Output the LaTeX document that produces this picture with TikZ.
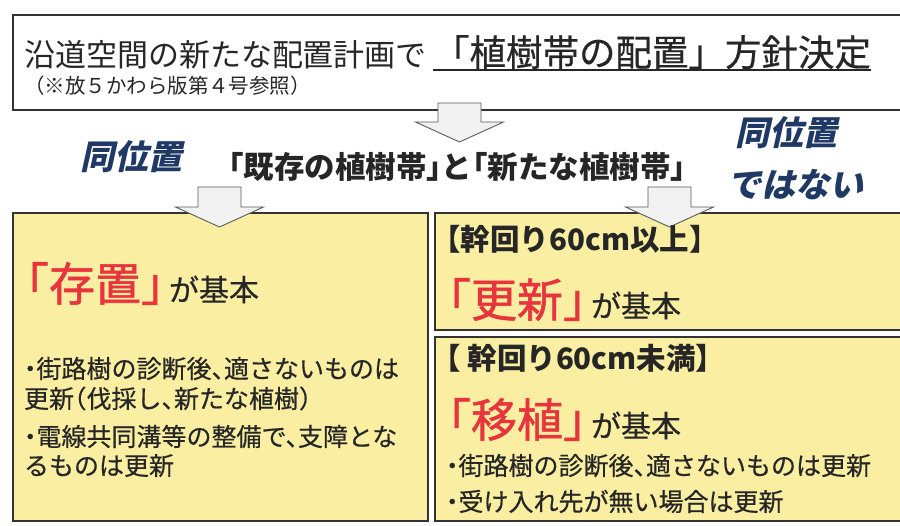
\documentclass[tikz,border=0pt]{standalone}
\usepackage{fontspec}
\setmainfont{Noto Sans CJK JP}
\newfontfamily\jpit[FakeSlant=0.22]{Noto Sans CJK JP}
\newfontfamily\jpmed[FakeBold=0.5]{Noto Sans CJK JP}
\newfontfamily\jphalt[RawFeature=+halt]{Noto Sans CJK JP}
\newfontfamily\jphaltmed[RawFeature=+halt,FakeBold=0.5]{Noto Sans CJK JP}
\newfontfamily\jphaltred[RawFeature=+halt,FakeBold=1.2]{Noto Sans CJK JP}
\definecolor{txt}{RGB}{38,38,38}
\definecolor{redt}{RGB}{232,52,60}
\definecolor{navy}{RGB}{31,56,100}
\definecolor{yell}{RGB}{249,238,161}
\definecolor{edge}{RGB}{51,51,51}
\definecolor{arrfill}{RGB}{242,242,242}
\definecolor{arrline}{RGB}{90,90,90}
\newcommand{\fs}[1]{\fontsize{#1}{#1}\selectfont}
\newcommand{\blockarrow}[3]{%
  \filldraw[barrow] (#1-21.5,#2) -- (#1+21.5,#2) -- (#1+21.5,#3-20) -- (#1+44,#3-20)
    -- (#1,#3) -- (#1-44,#3-20) -- (#1-21.5,#3-20) -- cycle;}
\newcommand{\keyline}[1]{\textcolor{redt}{\jphaltred\fs{46}「#1」}\hspace{5pt}{\fs{30}が基本}}
\begin{document}
\begin{tikzpicture}[x=1pt,y=-1pt,
  txtnode/.style={inner sep=0pt, outer sep=0pt, anchor=base west, text=txt},
  whitebox/.style={draw=edge, line width=2.2pt, fill=white, inner sep=0pt, outer sep=0pt, anchor=north west},
  ybox/.style={draw=edge, line width=2.4pt, fill=yell, inner sep=0pt, outer sep=0pt, anchor=north west},
  barrow/.style={fill=arrfill, draw=arrline, line width=0.9pt, line join=miter},
  bluetxt/.style={inner sep=0pt, outer sep=0pt, anchor=base west, text=navy, font=\jpit\bfseries\fs{34}},
  keytxt/.style={txtnode, font=\jphaltmed},
  bullet/.style={txtnode, font=\jphaltmed\fs{25}},
  headtxt/.style={txtnode, font=\jphalt\bfseries\fs{29.5}}]
\useasboundingbox (0,0) rectangle (900,526);
\fill[white] (0,0) rectangle (900,526);

% top box
\node[whitebox, minimum width=890pt, minimum height=95pt] (top) at (13,15) {};
\node[txtnode, font=\fs{31}] (t1) at (24,67) {沿道空間の新たな配置計画で};
\node[txtnode, font=\jpmed\fs{36.5}] (t2) at (433,66) {「植樹帯の配置」方針決定};
\draw[txt, line width=2pt] ([yshift=-4pt]t2.base west) -- ([yshift=-4pt]t2.base east);
\node[txtnode, font=\fs{20.5}] (t3) at (24,94) {（※放５かわら版第４号参照）};

\blockarrow{459.5}{103}{142}

% middle
\node[inner sep=0pt, anchor=base, text=txt, font=\jphalt\bfseries\fs{30.5}] (mid) at (457,179) {「既存の植樹帯」と「新たな植樹帯」};
\node[bluetxt] (sl) at (80,170) {同位置};
\node[bluetxt] (sr1) at (735,146) {同位置};
\node[bluetxt] (sr2) at (727,198) {ではない};

% yellow boxes
\node[ybox, minimum width=415pt, minimum height=308pt] (L) at (13,213) {};
\node[ybox, minimum width=468pt, minimum height=117pt] (RU) at (435,213) {};
\node[ybox, minimum width=468pt, minimum height=184pt] (RL) at (435,337) {};

\blockarrow{219.5}{187}{227}
\blockarrow{669.5}{187}{227}

% left box text
\node[keytxt] (l1) at (26,301) {\keyline{存置}};
\node[bullet] (l3) at (24,378) {・街路樹の診断後、適さないものは};
\node[bullet] (l4) at (24,408) {更新（伐採し、新たな植樹）};
\node[bullet] (l5) at (24,446) {・電線共同溝等の整備で、支障とな};
\node[bullet] (l6) at (24,475) {るものは更新};

% right upper
\node[headtxt] (r1) at (446,251) {【幹回り60cm以上】};
\node[keytxt] (r2) at (448,317) {\keyline{更新}};

% right lower
\node[headtxt] (r4) at (446,370) {【 幹回り60cm未満】};
\node[keytxt] (r5) at (448,437) {\keyline{移植}};
\node[bullet] (r7) at (446,475) {・街路樹の診断後、適さないものは更新};
\node[bullet] (r8) at (446,511) {・受け入れ先が無い場合は更新};
\end{tikzpicture}
\end{document}
